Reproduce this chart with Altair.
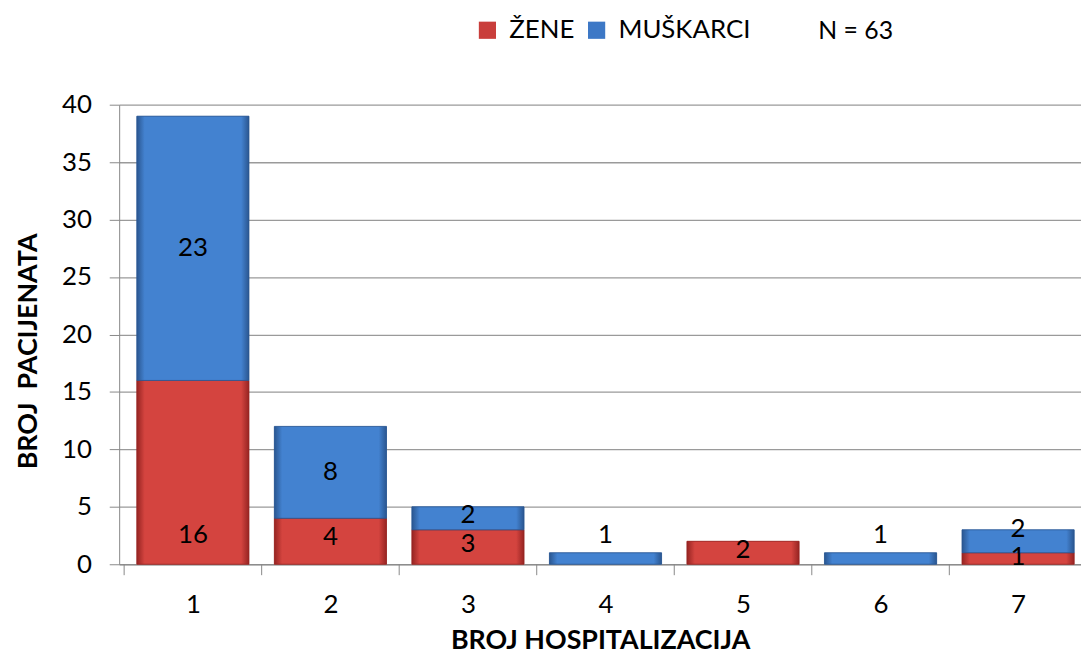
import altair as alt
import pandas as pd

# ---- data ----
categories = [1, 2, 3, 4, 5, 6, 7]
zene = [16, 4, 3, 0, 2, 0, 1]
muskarci = [23, 8, 2, 1, 0, 1, 2]
series = ["ŽENE", "MUŠKARCI"]
y_ticks = [0, 5, 10, 15, 20, 25, 30, 35, 40]
n_label = "N = 63"

# ---- styling ----
FONT = "Lato"
RED, BLUE = "#C93E3B", "#3D78C6"
RED_DARK, RED_MID = "#962422", "#D4443F"
BLUE_DARK, BLUE_MID = "#2A5690", "#4382D0"
GRID = "#9a9a9a"
AXIS_GRAY = "#888888"
PLOT_W, PLOT_H = 969, 463
STEP = 140
BAR_PX = 113

# label anchors: bottom segment label near the base, top segment label
# centred but kept clear of the label below it
rows = []
for c, f, m in zip(categories, zene, muskarci):
    f_lab = min(f * 0.6, 2.5) if f > 0 else 0
    m_lab = max(f + m / 2, f_lab + 2.5)
    rows.append(dict(k=c, sex=series[0], base=0, top=f, value=f, lab=f_lab))
    rows.append(dict(k=c, sex=series[1], base=f, top=f + m, value=m, lab=m_lab))
df = pd.DataFrame(rows)
df = df[df["value"] > 0]

# category boundaries for the x-axis tick marks
bounds = pd.DataFrame({"b": [c - 0.5 for c in categories]})

def grad(dark, mid):
    return alt.Gradient(
        gradient="linear",
        stops=[alt.GradientStop(color=dark, offset=0),
               alt.GradientStop(color=mid, offset=0.07),
               alt.GradientStop(color=mid, offset=0.93),
               alt.GradientStop(color=dark, offset=1)],
        x1=0, x2=1, y1=0, y2=0,
    )

# 140px per category; the last one is partly cut by the right edge (as in the reference)
x_scale = alt.Scale(domain=[0.5, 0.5 + PLOT_W / STEP], nice=False, zero=False)

x_enc = alt.X(
    "k:Q",
    scale=x_scale,
    axis=alt.Axis(
        title="BROJ HOSPITALIZACIJA", values=categories, format="d",
        ticks=False, domainColor=AXIS_GRAY, grid=False,
        labelFont=FONT, labelFontSize=26, labelColor="black", labelPadding=28,
        labelFlush=False,
        titleFont=FONT, titleFontSize=27, titleFontWeight="bold",
        titleColor="black", titlePadding=10,
    ),
)
y_enc = alt.Y(
    "base:Q",
    scale=alt.Scale(domain=[0, 40], nice=False),
    axis=alt.Axis(
        title="BROJ\u00a0\u00a0PACIJENATA", values=y_ticks, grid=True, gridColor=GRID,
        gridWidth=1.3, tickSize=10, tickColor=AXIS_GRAY, domainColor=AXIS_GRAY,
        labelFont=FONT, labelFontSize=26, labelColor="black", labelPadding=18,
        titleFont=FONT, titleFontSize=27, titleFontWeight="bold",
        titleColor="black", titlePadding=19, titleY=248,
    ),
)

base = alt.Chart(df)

legend_layer = base.mark_bar(size=BAR_PX).encode(
    x=x_enc, y=y_enc, y2="top:Q",
    color=alt.Color(
        "sex:N",
        scale=alt.Scale(domain=series, range=[RED, BLUE]),
        legend=alt.Legend(
            orient="none", legendX=358, legendY=-88, direction="horizontal",
            title=None, symbolType="square", symbolSize=300,
            symbolStrokeWidth=0, labelFont=FONT, labelFontSize=26,
            labelColor="black", labelOffset=9, columnPadding=9,
        ),
    ),
)

red_layer = base.transform_filter(alt.datum.sex == series[0]).mark_bar(
    size=BAR_PX, color=grad(RED_DARK, RED_MID), stroke=RED_DARK, strokeWidth=0.8
).encode(x="k:Q", y="base:Q", y2="top:Q")

blue_layer = base.transform_filter(alt.datum.sex == series[1]).mark_bar(
    size=BAR_PX, color=grad(BLUE_DARK, BLUE_MID), stroke=BLUE_DARK, strokeWidth=0.8
).encode(x="k:Q", y="base:Q", y2="top:Q")

ticks = alt.Chart(bounds).mark_rule(color=AXIS_GRAY, strokeWidth=1).encode(
    x="b:Q", y=alt.value(PLOT_H), y2=alt.value(PLOT_H + 11)
)

labels = base.mark_text(
    font=FONT, fontSize=26, color="black", baseline="middle"
).encode(x="k:Q", y="lab:Q", text="value:Q")

n_text = alt.Chart(pd.DataFrame({"t": [n_label]})).mark_text(
    font=FONT, fontSize=25, color="black", align="center", baseline="middle"
).encode(x=alt.value(742), y=alt.value(-74), text="t:N")

chart = alt.layer(legend_layer, red_layer, blue_layer, ticks, labels, n_text).properties(
    width=PLOT_W, height=PLOT_H,
    autosize=alt.AutoSizeParams(type="none"),
    padding={"left": 112, "top": 95, "right": 0, "bottom": 90},
).configure_view(stroke=None)

chart.save("out.html", embed_options={"renderer": "svg", "actions": False})
